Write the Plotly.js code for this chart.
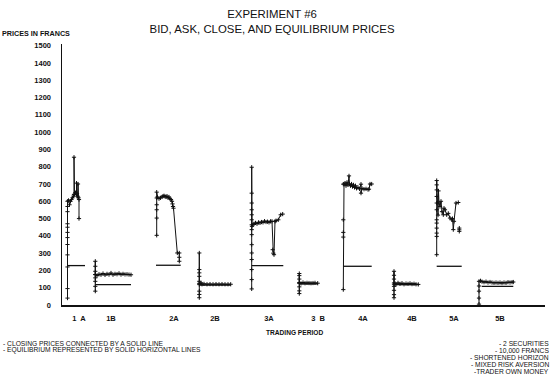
<!DOCTYPE html>
<html>
<head>
<meta charset="utf-8">
<script src="https://cdn.plot.ly/plotly-3.0.1.min.js"></script>
<style>html,body{margin:0;padding:0;background:#fff;}#chart{width:553px;height:378px;}</style>
</head>
<body>
<div id="chart"></div>
<script>
// ---- Data (trading time units along the x axis, prices in francs) ----
const tickPos  = [17, 49, 112, 153, 207, 256, 301, 350, 392, 438];
const tickText = ['1  A', '1B', '2A', '2B', '3A', '3  B', '4A', '4B', '5A', '5B'];
const yTicks   = [0,100,200,300,400,500,600,700,800,900,1000,1100,1200,1300,1400,1500];

// Period 1A
const t1A = [5.5,5.5,5.5,5.5,5.5,5.5,5.5,5.5,5.5,5.5,5.5,5.5, 6.5,7.5,8.5,9.5,10.5,11.5,12,12,12.5,13.5,14.5,14.5,15,15.5,16,16,16.5,17,17];
const v1A = [40,95,220,290,350,390,420,450,470,540,570,600, 605,580,600,610,620,630,640,855,640,650,640,705,645,630,625,700,620,610,500];
// Period 1B
const t1B = [33.3,33.3,33.3,33.3,33.3,33.3,33.3,33.3,33.3, 35,37,39,41,43,45,47,49,51,53,55,57,59,61,63,65,67,69];
const v1B = [80,108,137,157,195,224,253,176,176, 170,178,175,182,174,180,176,185,175,180,178,183,176,180,177,178,176,175];
// Period 2A
const t2A = [94.7,94.7,94.7,94.7,94.7,94.7, 95.5,97,98.5,100,101,102,103,104,105,106,107,108,109,110,110.5,111,111.5,115.3,117.3,117.3,117.3];
const v2A = [403,503,551,580,619,653, 625,615,620,625,630,632,628,625,630,620,625,615,610,600,585,570,560,301,301,276,253];
// Period 2B
const t2B = [137.3,137.3,137.3,137.3,137.3,137.3,137.3,137.3,137.3,137.3, 139,140,142,145,148,151,154,157,160,163,166,168.7];
const v2B = [42,61,80,118,137,166,186,205,301,125, 128,120,122,120,121,120,121,120,121,120,120,120];
// Period 3A
const t3A = [189.7,189.7,189.7,189.7,189.7,189.7,189.7,189.7,189.7,189.7,189.7,189.7,189.7,189.7,189.7, 190,191,192,193.5,195,196.5,198,199.5,201,202.5,204,205.5,207,208.5,210,210.7,211.3,212,213,214,216.3,218.7,220.7];
const v3A = [93,147,205,263,301,349,407,436,464,493,522,551,590,647,797, 455,465,470,475,470,478,475,480,478,485,480,482,478,484,484,320,300,291,484,488,493,522,526];
// Period 3B
const t3B = [237.3,237.3,237.3,237.3,237.3,237.3,237.3,237.3, 239,241,243,245,247,249,251,253,255.7];
const v3B = [66,82,105,130,150,170,182,125, 125,130,126,128,127,126,127,128,126];
// Period 4A
const t4A = [281.3,281.3,281.3,281.3,281.3, 282,283,284,285,286,287,287.5,288.5,289.5,290.5,291.5,292.5,293.5,294.5,296,297.5,299,299,300,302,304,306,307,308,309.7];
const v4A = [89,393,420,493,699, 700,705,690,710,695,747,700,690,700,685,695,680,690,675,680,672,699,647,675,670,672,668,670,700,700];
// Period 4B
const t4B = [332,332,332,332,332,332,332,332,332, 333,334,336,338,340,342,344,346,348,350,352,354,356.3];
const v4B = [42,60,85,108,128,150,172,195,120, 125,118,128,122,126,120,124,122,125,121,123,120,119];
// Period 5A
const t5A = [374.7,374.7,374.7,374.7,374.7,374.7,374.7,374.7,374.7,374.7,374.7,374.7, 376,376.5,377,378,379,380,381.3,382,383,384.7,386.3,388,389.7,390.5,391.3,392,394,396.3];
const v5A = [291,397,416,445,474,493,551,590,628,666,695,720, 520,660,590,570,600,540,522,560,551,522,530,503,493,500,436,484,590,593];
const t5Aquote = [397.3, 397.3, 397.3];
const v5Aquote = [445, 435, 426];
// Period 5B
const t5B = [417,417,417,417,417, 418.5,420,422,424,426,428,430,432,434,436,438,440,442,444,446,448,450,451.3];
const v5B = [5,40,80,110,137, 140,135,132,135,130,133,130,128,130,128,130,127,130,128,132,130,132,133];

// Equilibrium prices per period
const eqStart = [5.5, 33.3, 94.0, 137.3, 189.7, 237.3, 281.3, 332, 374.7, 419.7];
const eqEnd   = [23, 69, 118.7, 168.7, 221.3, 255.7, 309.7, 356.3, 399.7, 451.3];
const eqValue = [228, 118, 230, 115, 228, 122, 224, 118, 224, 108];

// ---- Traces ----
const ink = '#111';
const series = [[t1A,v1A],[t1B,v1B],[t2A,v2A],[t2B,v2B],[t3A,v3A],[t3B,v3B],[t4A,v4A],[t4B,v4B],[t5A,v5A],[t5B,v5B]];
const mk = {symbol:'cross-thin', size:3, color:ink, line:{color:ink, width:1}};
const traces = [];
series.forEach(function(s){
  traces.push({
    type:'scatter', mode:'lines+markers', x:s[0], y:s[1],
    line:{color:ink, width:1}, marker:mk, hoverinfo:'skip', showlegend:false
  });
});
traces.push({
  type:'scatter', mode:'markers', x:t5Aquote, y:v5Aquote,
  marker:mk, hoverinfo:'skip', showlegend:false
});
eqValue.forEach(function(v,i){
  traces.push({
    type:'scatter', mode:'lines', x:[eqStart[i], eqEnd[i]], y:[v, v],
    line:{color:ink, width:1.3}, hoverinfo:'skip', showlegend:false
  });
});

const narrow = 'Liberation Sans Narrow, Arial Narrow, sans-serif';
const sans = 'Liberation Sans, Arial, sans-serif';
function note(text, xp, yp, anchor){
  return {text:text, xref:'paper', yref:'paper', x:xp, y:yp, xanchor:anchor, yanchor:'middle',
          showarrow:false, font:{family:sans, size:6.7, color:ink}};
}
// paper coords helpers: plot area px x 62..545, y 44..305
function px(x){ return (x-62)/483; }
function py(y){ return (305-y)/261; }

const layout = {
  width:553, height:378,
  margin:{l:62, r:8, t:44, b:73, pad:0},
  paper_bgcolor:'#fff', plot_bgcolor:'#fff',
  title:{text:'EXPERIMENT #6<br>BID, ASK, CLOSE, AND EQUILIBRIUM PRICES',
         x:0.492, xanchor:'center', y:0.952, yanchor:'top', yref:'container',
         font:{family:sans, size:11.4, color:ink}},
  xaxis:{range:[0,483], showgrid:false, zeroline:false, showline:true, linecolor:ink, linewidth:2,
         tickmode:'array', tickvals:tickPos, ticktext:tickText, ticks:'', ticklabelstandoff:5,
         tickfont:{family:narrow, size:7.5, color:ink, weight:'bold'}},
  yaxis:{range:[0,1510], showgrid:false, zeroline:false, showline:true, linecolor:ink, linewidth:1.5,
         tickmode:'array', tickvals:yTicks, ticks:'', ticklabelstandoff:8,
         tickfont:{family:narrow, size:7.5, color:ink, weight:'bold'}},
  annotations:[
    {text:'PRICES IN FRANCS', xref:'paper', yref:'paper', x:px(0), y:py(33), xanchor:'left', yanchor:'middle',
     showarrow:false, font:{family:narrow, size:7.2, color:ink, weight:'bold'}},
    {text:'TRADING PERIOD', xref:'paper', yref:'paper', x:px(294), y:py(332), xanchor:'center', yanchor:'middle',
     showarrow:false, font:{family:narrow, size:6.6, color:ink, weight:'bold'}},
    note('- CLOSING PRICES CONNECTED BY A SOLID LINE', px(1), py(343), 'left'),
    note('- EQUILIBRIUM REPRESENTED BY SOLID HORIZONTAL LINES', px(1), py(350), 'left'),
    note('- 2 SECURITIES', px(551), py(343), 'right'),
    note('- 10,000 FRANCS', px(551), py(350), 'right'),
    note('- SHORTENED HORIZON', px(551), py(357), 'right'),
    note('- MIXED RISK AVERSION', px(551), py(364), 'right'),
    note('-TRADER OWN MONEY', px(551), py(371), 'right')
  ]
};

Plotly.newPlot('chart', traces, layout, {displayModeBar:false, staticPlot:true});
</script>
</body>
</html>
